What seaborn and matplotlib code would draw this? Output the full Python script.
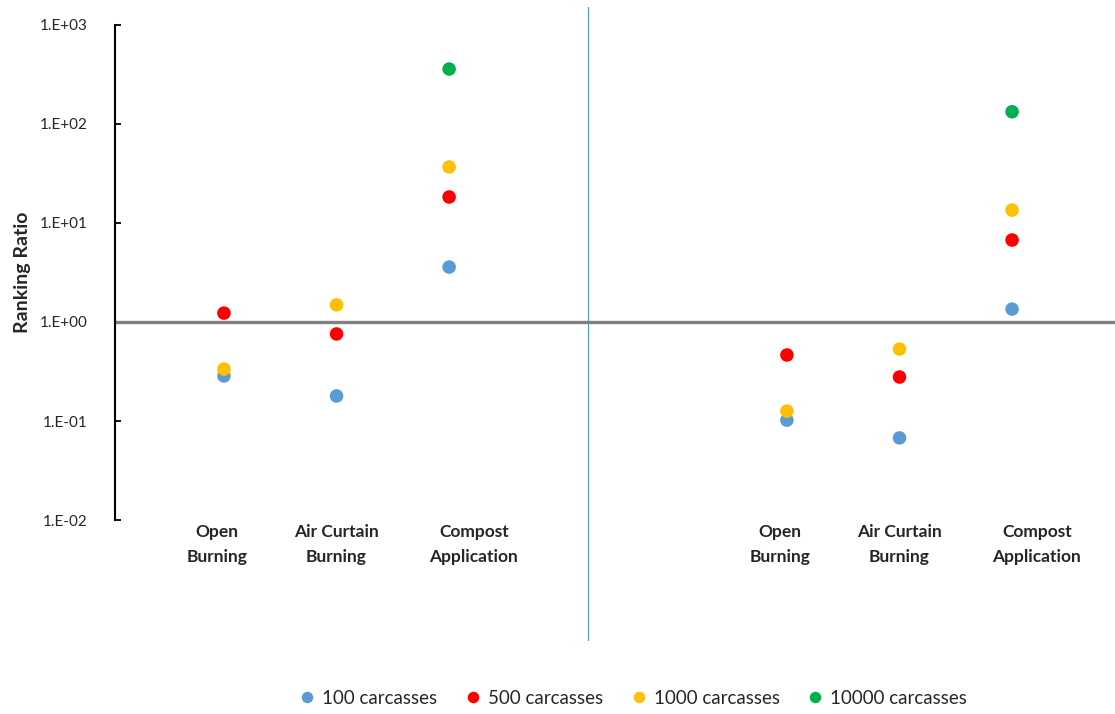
import numpy as np
import pandas as pd
import matplotlib
matplotlib.use("Agg")
import matplotlib.pyplot as plt
import seaborn as sns

# Ranking ratios for three disposal methods, two scenario groups (left / right)
methods = ["Open\nBurning", "Air Curtain\nBurning", "Compost\nApplication"]
groups = ["A", "B"]
sizes = ["100 carcasses", "500 carcasses", "1000 carcasses", "10000 carcasses"]

ratio_100 = [0.285, 0.179, 3.59, 0.102, 0.0675, 1.35]
ratio_500 = [1.23, 0.757, 18.3, 0.464, 0.278, 6.73]
ratio_1000 = [0.335, 1.49, 36.8, 0.126, 0.533, 13.5]
ratio_10000 = [np.nan, np.nan, 359.0, np.nan, np.nan, 133.0]

colors = ["#5B9BD5", "#FF0000", "#FFC000", "#00B050"]
yticks = [1e-2, 1e-1, 1e0, 1e1, 1e2, 1e3]
ytick_labels = ["1.E-02", "1.E-01", "1.E+00", "1.E+01", "1.E+02", "1.E+03"]

# slot positions along the category axis: two groups of three with a gap
slots = [1, 2, 3, 6, 7, 8]

rows = []
for size, vals in zip(sizes, [ratio_100, ratio_500, ratio_1000, ratio_10000]):
    for s, v in zip(slots, vals):
        if not np.isnan(v):
            rows.append({"slot": s, "ratio": v, "size": size})
df = pd.DataFrame(rows)

sns.set_style("white")
plt.rcParams["font.family"] = ["Lato", "DejaVu Sans"]

fig = plt.figure(figsize=(11.15, 7.14), dpi=100)
ax = fig.add_axes([0.1031, 0.2717, 0.897, 0.6933])

ax.axhline(1.0, color="#808080", lw=2.4, zorder=1)

sns.scatterplot(data=df, x="slot", y="ratio", hue="size", hue_order=sizes,
                palette=colors, s=95, edgecolor="none", linewidth=0,
                ax=ax, zorder=3, legend=True)

ax.set_yscale("log")
ax.set_ylim(1e-2, 1e3)
ax.set_xlim(0.032, 8.915)
ax.set_yticks(yticks)
ax.set_yticklabels(ytick_labels, fontsize=11)
ax.minorticks_off()
ax.yaxis.set_minor_locator(matplotlib.ticker.NullLocator())
ax.tick_params(axis="y", direction="in", length=4, width=1.3, color="black", pad=20, left=True)
ax.set_xticks([])
ax.set_xlabel("")
ax.set_ylabel("Ranking Ratio", fontsize=14, fontweight="bold", labelpad=6)

for side in ["top", "right", "bottom"]:
    ax.spines[side].set_visible(False)
ax.spines["left"].set_color("black")
ax.spines["left"].set_linewidth(1.5)

# group divider
ax.axvline(4.23, ymin=-0.242, ymax=1.036, color="#5B9BD5", lw=0.9, clip_on=False, zorder=0)

# category labels under each group
label_shift = [-0.06, 0.0, 0.22]
trans = matplotlib.transforms.blended_transform_factory(ax.transData, ax.transAxes)
for g in range(len(groups)):
    for i, m in enumerate(methods):
        x = slots[g * 3 + i] + label_shift[i]
        ax.text(x, -0.008, m, transform=trans, ha="center", va="top",
                fontsize=12.5, fontweight="bold", linespacing=1.7)

handles, labels = ax.get_legend_handles_labels()
ax.legend(handles, labels, loc="center", bbox_to_anchor=(0.563, 0.022),
          bbox_transform=fig.transFigure, ncol=4, frameon=False,
          fontsize=13.5, handletextpad=-0.2, columnspacing=0.9, markerscale=0.85)

fig.savefig("out.png", dpi=100)
